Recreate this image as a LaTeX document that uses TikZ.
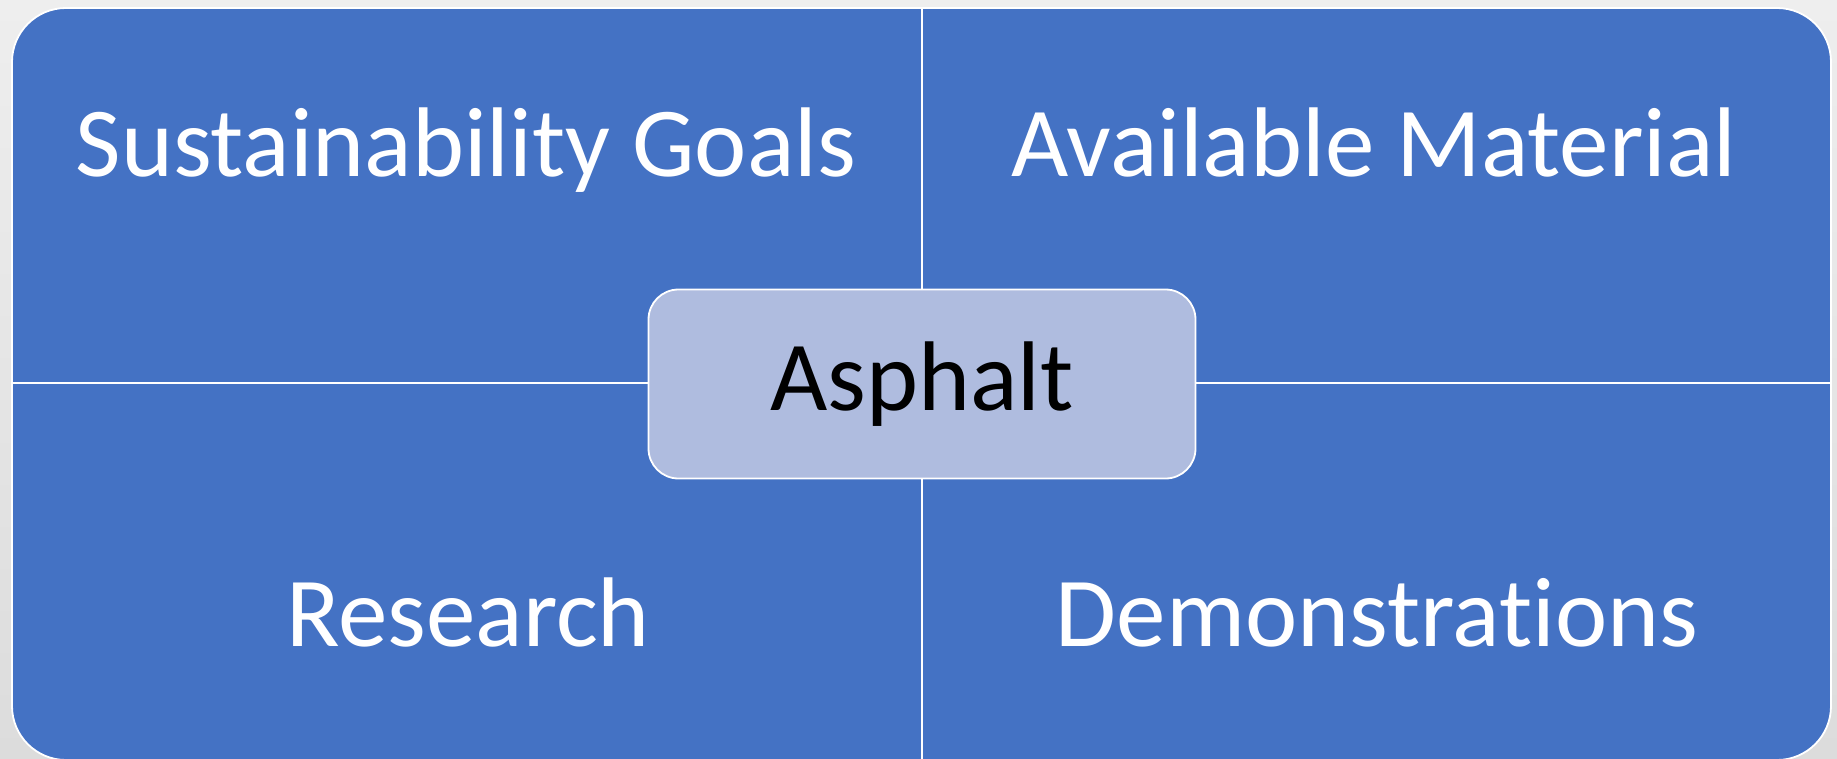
\documentclass[tikz,border=0pt]{standalone}
\usepackage{fontspec}
\setmainfont{Carlito}[Ligatures=NoCommon]
\definecolor{matrixblue}{RGB}{68,114,196}
\definecolor{hubfill}{RGB}{175,188,223}
\definecolor{bgtop}{RGB}{238,238,238}
\definecolor{bgbottom}{RGB}{220,220,220}
\tikzset{
  quadlabel/.style={anchor=base, text=white, font=\fontsize{99}{110}\selectfont, inner sep=0pt},
  hubbox/.style={draw=white, line width=1.8pt, fill=hubfill, rounded corners=30pt,
    minimum width=547pt, minimum height=189pt, text=black,
    font=\fontsize{99}{110}\selectfont},
  divider/.style={draw=white, line width=1.8pt}
}
\begin{document}
\begin{tikzpicture}[x=1pt, y=-1pt]
  % page background
  \shade[top color=bgtop, bottom color=bgbottom] (0,0) rectangle (1837,758);
  \useasboundingbox (0,0) rectangle (1837,758);
  \begin{scope}
    \clip (0,0) rectangle (1837,758);
    % outer rounded matrix, running just past the lower edge
    \draw[white, line width=1.8pt, fill=matrixblue, rounded corners=54pt]
      (12,8) rectangle (1831,760);
    % cross dividing the four quadrants
    \coordinate (vtop) at (922,8);
    \coordinate (vbot) at (922,760);
    \coordinate (hleft) at (12,383);
    \coordinate (hright) at (1831,383);
    \draw[divider] (vtop) -- (vbot);
    \draw[divider] (hleft) -- (hright);
  \end{scope}
  % quadrant labels
  \node[quadlabel] (goals) at (466,176) {Sustainability Goals};
  \node[quadlabel] (material) at (1374,176) {Available Material};
  \node[quadlabel] (research) at (468,646) {Research};
  \node[quadlabel] (demos) at (1377,646) {Demonstrations};
  % central hub
  \node[hubbox] (hub) at (922,384) {Asphalt};
\end{tikzpicture}
\end{document}
